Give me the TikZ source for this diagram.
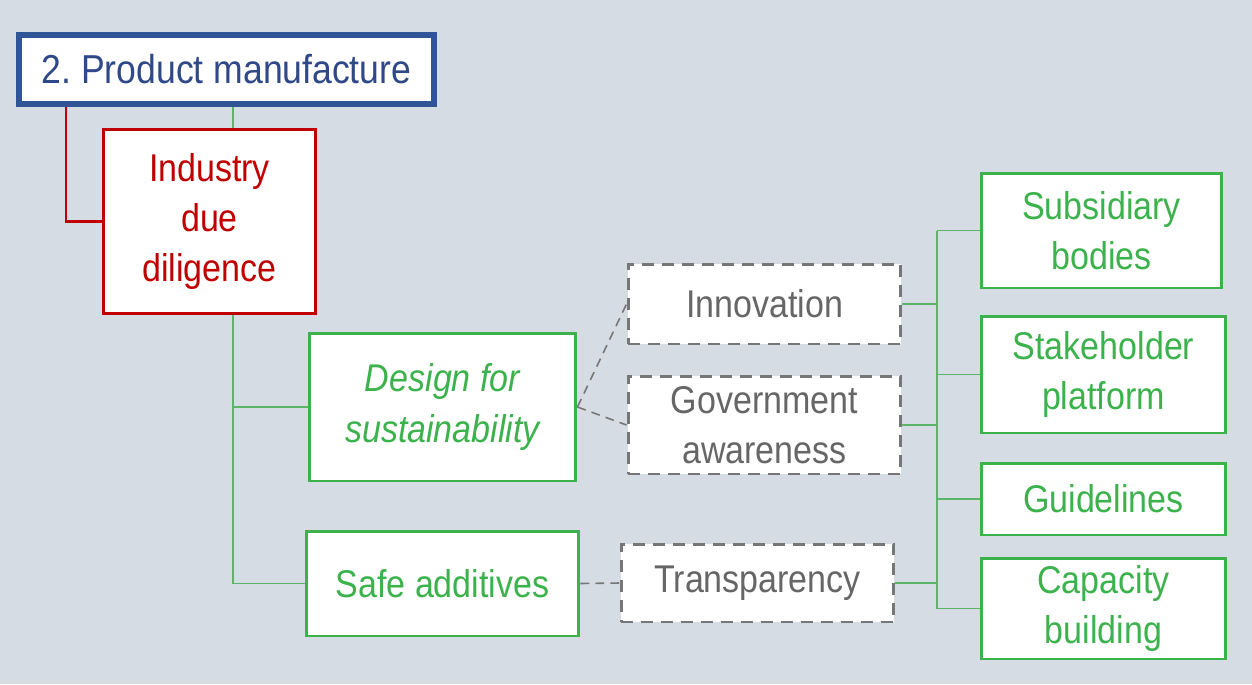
\documentclass[tikz,border=0pt]{standalone}
\usepackage{fontspec}
\setmainfont{Liberation Sans}[FakeStretch=0.88]
\definecolor{bgcol}{RGB}{214,220,228}
\definecolor{pmblue}{RGB}{47,85,151}
\definecolor{pmtext}{RGB}{47,72,136}
\definecolor{iddred}{RGB}{192,0,0}
\definecolor{sgreen}{RGB}{60,178,76}
\definecolor{lgreen}{RGB}{92,180,104}
\definecolor{dgrey}{RGB}{118,118,118}
\definecolor{tgrey}{RGB}{102,102,102}
\begin{document}
\begin{tikzpicture}[x=0.02cm, y=-0.02cm,
    box/.style={draw, fill=white, inner sep=0pt, align=center, font=\fontsize{22}{28.5}\selectfont},
    titlebox/.style={box, draw=pmblue, line width=3.4pt, text=pmtext, font=\fontsize{23}{28.5}\selectfont},
    redbox/.style={box, draw=iddred, line width=1.7pt, text=iddred},
    greenbox/.style={box, draw=sgreen, line width=1.7pt, text=sgreen},
    greybox/.style={box, draw=dgrey, line width=1.7pt, dash pattern=on 0.24cm off 0.16cm, text=tgrey},
    link/.style={draw=lgreen, line width=0.9pt},
    redlink/.style={draw=iddred, line width=1.4pt},
    dlink/.style={draw=dgrey, line width=0.9pt, dash pattern=on 5pt off 3.5pt}]

    % background
    \fill[bgcol] (0,0) rectangle (1252,684);

    % left column
    \node[titlebox, minimum width=8.3cm, minimum height=1.38cm] (pm) at (226.5,69.5) {2.\ Product manufacture};
    \node[redbox, minimum width=4.24cm, minimum height=3.68cm] (idd) at (209.5,221.5) {Industry\\due\\diligence};
    \node[greenbox, minimum width=5.34cm, minimum height=2.96cm] (dfs) at (442.5,407) {\itshape Design for\\\itshape sustainability};
    \node[greenbox, minimum width=5.46cm, minimum height=2.1cm] (safe) at (442.5,583.5) {Safe additives};

    % middle column
    \node[greybox, minimum width=5.46cm, minimum height=1.6cm] (inn) at (764.5,304) {Innovation};
    \node[greybox, minimum width=5.46cm, minimum height=1.96cm] (gov) at (764.5,425) {Government\\awareness};
    \node[greybox, minimum width=5.46cm, minimum height=1.56cm] (tra) at (757.5,583) {Transparency};

    % right column
    \node[greenbox, minimum width=4.82cm, minimum height=2.3cm] (sub) at (1101.5,230.5) {Subsidiary\\bodies};
    \node[greenbox, minimum width=4.9cm, minimum height=2.34cm] (stk) at (1103.5,374.5) {Stakeholder\\platform};
    \node[greenbox, minimum width=4.9cm, minimum height=1.44cm] (gui) at (1103.5,499) {Guidelines};
    \node[greenbox, minimum width=4.9cm, minimum height=2.02cm] (cap) at (1103.5,608.5) {Capacity\\building};

    % connectors
    \coordinate (trunk) at (233,107);
    \coordinate (stub) at (66,107);
    \coordinate (bus) at (937,228);

    \draw[redlink] (pm.south -| stub) |- (idd.west);
    \draw[link] (pm.south -| trunk) -- (idd.north -| trunk);
    \draw[link] (idd.south -| trunk) |- (dfs.west);
    \draw[link] (idd.south -| trunk) |- (safe.west);

    \draw[dlink] (dfs.east) -- (inn.west);
    \draw[dlink] (dfs.east) -- (gov.west);
    \draw[dlink] (safe.east) -- (tra.west);

    \draw[link] (bus |- sub.west) -- (bus |- cap.west);
    \foreach \n in {inn,gov,tra}
        \draw[link] (\n.east) -- (\n.east -| bus);
    \foreach \n in {sub,stk,gui,cap}
        \draw[link] (bus |- \n.west) -- (\n.west);
\end{tikzpicture}
\end{document}
